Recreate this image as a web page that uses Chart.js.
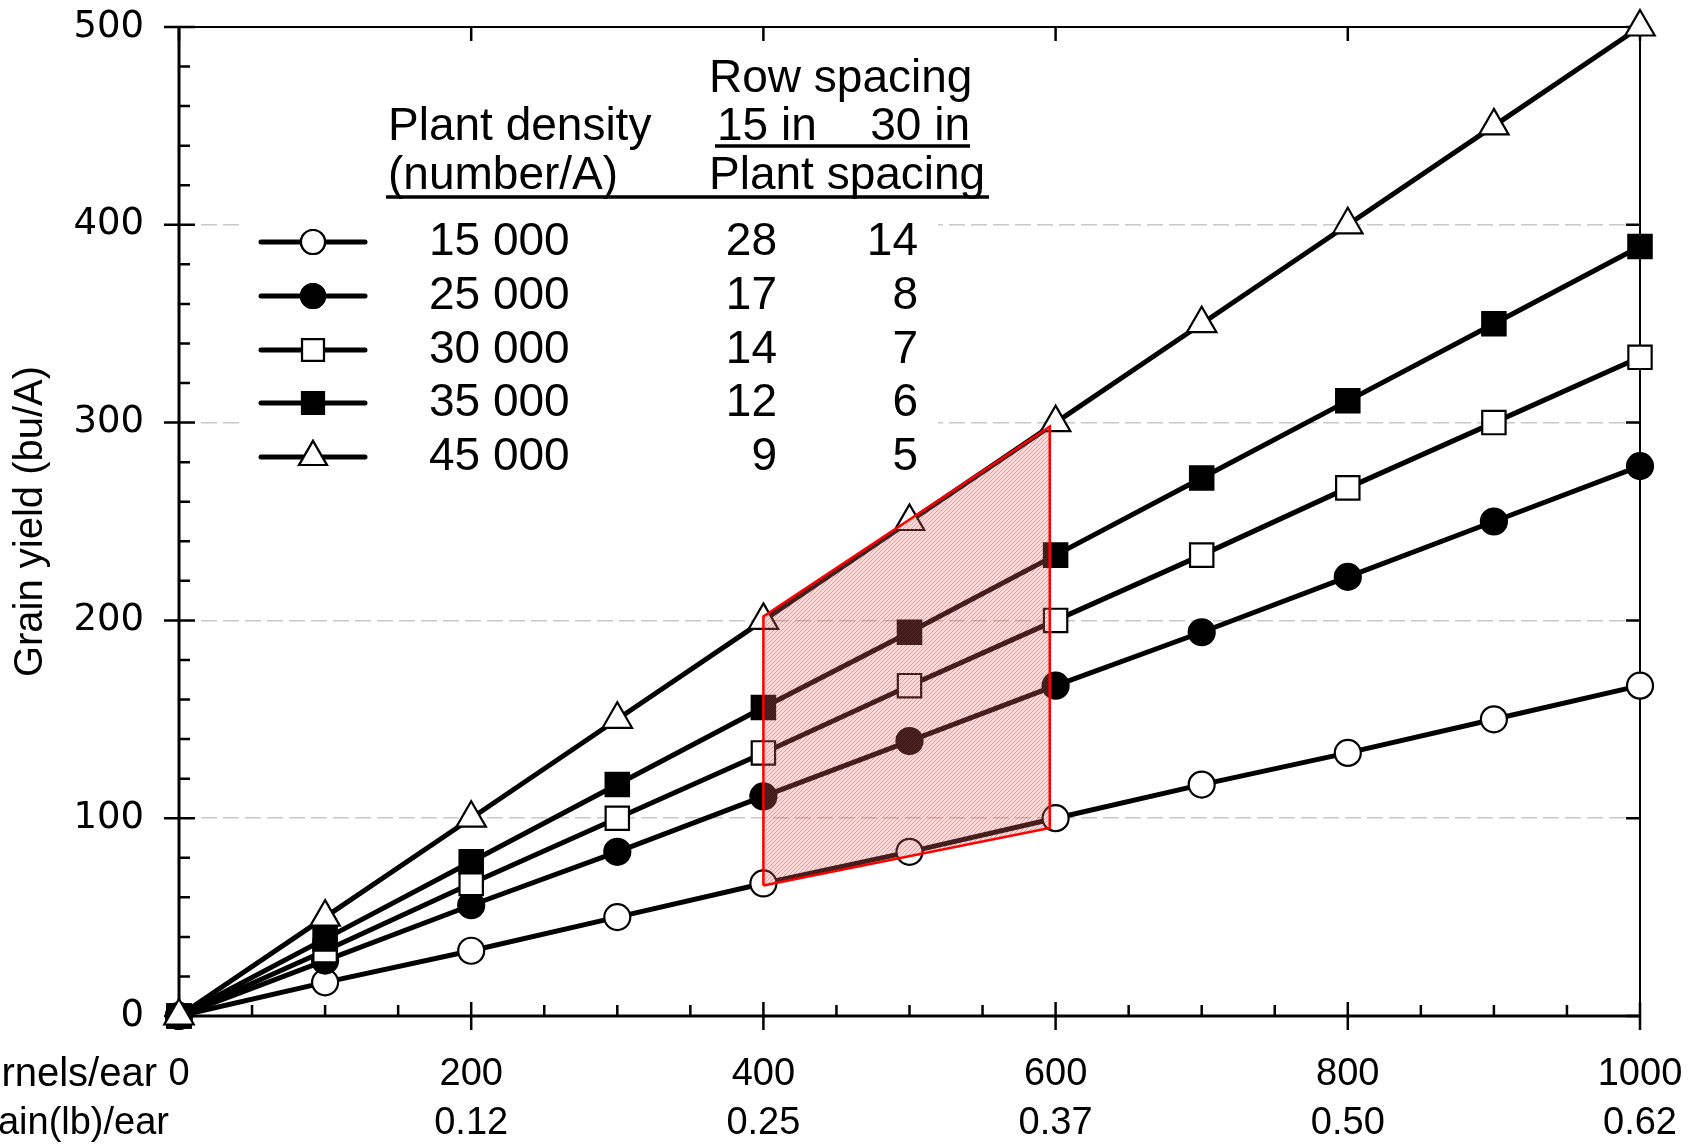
<!DOCTYPE html>
<html>
<head>
<meta charset="utf-8">
<script src="https://cdn.jsdelivr.net/npm/chart.js@4.4.1/dist/chart.umd.min.js"></script>
<style>
  html, body { margin: 0; padding: 0; background: #fff; }
  #wrap { width: 1690px; height: 1144px; position: relative; }
</style>
</head>
<body>
<div id="wrap"><canvas id="c"></canvas></div>
<script>
// ---------------- data ----------------
const kernels = [0, 100, 200, 300, 400, 500, 600, 700, 800, 900, 1000];
const yield15000 = [0, 17, 33, 50, 67, 83, 100, 117, 133, 150, 167];
const yield25000 = [0, 28, 56, 83, 111, 139, 167, 194, 222, 250, 278];
const yield30000 = [0, 33, 67, 100, 133, 167, 200, 233, 267, 300, 333];
const yield35000 = [0, 39, 78, 117, 156, 194, 233, 272, 311, 350, 389];
const yield45000 = [0, 50, 100, 150, 200, 250, 300, 350, 400, 450, 500];

const densityLabels = ['15 000', '25 000', '30 000', '35 000', '45 000'];
const spacing15in = ['28', '17', '14', '12', '9'];
const spacing30in = ['14', '8', '7', '6', '5'];

const xTickValues = [0, 200, 400, 600, 800, 1000];
const kernelTickLabels = ['0', '200', '400', '600', '800', '1000'];
const grainTickLabels = ['', '0.12', '0.25', '0.37', '0.50', '0.62'];

// shaded region (kernels/ear, lower and upper yield edges)
const shadeX = [400, 596];
const shadeLow = [66, 95];
const shadeHigh = [202, 298];

// ---------------- helpers ----------------
const pts = (ys) => kernels.map((k, i) => ({ x: k, y: ys[i] }));
const edge = (ys) => shadeX.map((k, i) => ({ x: k, y: ys[i] }));
const outline = [
  { x: shadeX[0], y: shadeLow[0] }, { x: shadeX[0], y: shadeHigh[0] },
  { x: shadeX[1], y: shadeHigh[1] }, { x: shadeX[1], y: shadeLow[1] },
  { x: shadeX[0], y: shadeLow[0] }
];

// hatch pattern for the shaded region
const pc = document.createElement('canvas');
pc.width = 4; pc.height = 4;
const pctx = pc.getContext('2d');
pctx.fillStyle = 'rgba(255,100,100,0.26)';
pctx.fillRect(0, 0, 4, 4);
pctx.fillStyle = 'rgba(240,20,20,0.32)';
pctx.fillRect(0, 3, 1, 1); pctx.fillRect(1, 2, 1, 1); pctx.fillRect(2, 1, 1, 1); pctx.fillRect(3, 0, 1, 1);
const hatch = pctx.createPattern(pc, 'repeat');

const styles = {
  s15000: { pointStyle: 'circle', bg: '#fff', r: 13 },
  s25000: { pointStyle: 'circle', bg: '#000', r: 13 },
  s30000: { pointStyle: 'rect', bg: '#fff', r: 16.5 },
  s35000: { pointStyle: 'rect', bg: '#000', r: 16.5 },
  s45000: { pointStyle: 'triangle', bg: '#fff', r: 17 }
};
const legendStyles = [styles.s15000, styles.s25000, styles.s30000, styles.s35000, styles.s45000];

function series(label, ys, st) {
  return {
    label, data: pts(ys), order: 1, clip: false,
    borderColor: '#000', borderWidth: 5, tension: 0, fill: false,
    pointStyle: st.pointStyle, pointRadius: st.r, pointHoverRadius: st.r,
    pointBackgroundColor: st.bg, pointBorderColor: '#000', pointBorderWidth: 2.2
  };
}

const FONT = '"Liberation Sans", Arial, sans-serif';
const zeroPad = (s) => { s.paddingLeft = 0; s.paddingRight = 0; s.paddingTop = 0; s.paddingBottom = 0; };

// ---------------- plugins ----------------
const framePlugin = {
  id: 'frame',
  beforeDatasetsDraw(chart) {
    const { ctx, chartArea: a, scales: { x, y } } = chart;
    ctx.save();
    // legend background (covers grid lines)
    ctx.fillStyle = '#fff';
    ctx.fillRect(240, 222, 698, 258);
    ctx.strokeStyle = '#000';
    ctx.lineCap = 'butt';
    // frame
    ctx.lineWidth = 2;
    ctx.beginPath();
    ctx.moveTo(a.left, a.top); ctx.lineTo(a.right, a.top); ctx.lineTo(a.right, a.bottom);
    ctx.stroke();
    ctx.lineWidth = 3;
    ctx.beginPath();
    ctx.moveTo(a.left, a.top - 1); ctx.lineTo(a.left, a.bottom); ctx.lineTo(a.right, a.bottom);
    ctx.stroke();
    // ticks
    ctx.lineWidth = 2.5;
    ctx.beginPath();
    for (let v = 0; v <= 500; v += 20) {
      const py = y.getPixelForValue(v);
      if (v % 100 === 0) {
        ctx.moveTo(a.left - 15, py); ctx.lineTo(a.left + 16, py);
        ctx.moveTo(a.right, py); ctx.lineTo(a.right - 14, py);
      } else {
        ctx.moveTo(a.left, py); ctx.lineTo(a.left + 11, py);
      }
    }
    for (let v = 0; v <= 1000; v += 50) {
      const px = x.getPixelForValue(v);
      if (v % 200 === 0) {
        ctx.moveTo(px, a.bottom + 14); ctx.lineTo(px, a.bottom - 14);
        ctx.moveTo(px, a.top); ctx.lineTo(px, a.top + 14);
      } else {
        ctx.moveTo(px, a.bottom); ctx.lineTo(px, a.bottom - 11);
      }
    }
    ctx.stroke();
    ctx.restore();
  },
  afterDraw(chart) {
    const { ctx } = chart;
    ctx.save();
    ctx.fillStyle = '#000';
    ctx.strokeStyle = '#000';
    // x-axis row titles (partly off-canvas, as in the original)
    ctx.font = '40px ' + FONT;
    ctx.textAlign = 'right';
    ctx.textBaseline = 'middle';
    ctx.fillText('Kernels/ear', 157, 1075);
    ctx.font = '38px ' + FONT;
    ctx.fillText('Grain(lb)/ear', 169, 1124);

    // legend header
    ctx.font = '46px ' + FONT;
    ctx.textAlign = 'left';
    ctx.fillText('Row spacing', 709, 79);
    ctx.fillText('Plant density', 388, 127);
    ctx.fillText('15 in', 717, 127);
    ctx.textAlign = 'right';
    ctx.fillText('30 in', 970, 127);
    ctx.textAlign = 'left';
    ctx.fillText('(number/A)', 388, 176);
    ctx.fillText('Plant spacing', 709, 176);
    ctx.lineWidth = 3.5;
    ctx.beginPath();
    ctx.moveTo(715, 146); ctx.lineTo(970, 146);
    ctx.moveTo(386, 197); ctx.lineTo(989, 197);
    ctx.stroke();

    // legend rows
    const rowsY = [242, 296, 350, 403, 457];
    rowsY.forEach((ry, i) => {
      ctx.lineWidth = 5;
      ctx.lineCap = 'round';
      ctx.beginPath();
      ctx.moveTo(261, ry); ctx.lineTo(365, ry);
      ctx.stroke();
      const st = legendStyles[i];
      ctx.lineWidth = 2.2;
      ctx.fillStyle = st.bg;
      Chart.helpers.drawPoint(ctx, { pointStyle: st.pointStyle, radius: st.r - 1, rotation: 0, borderWidth: 2.2 }, 313, ry);
      ctx.fill();
      ctx.stroke();
      ctx.fillStyle = '#000';
      ctx.font = '46px ' + FONT;
      ctx.textAlign = 'left';
      ctx.fillText(densityLabels[i], 429, ry);
      ctx.textAlign = 'right';
      ctx.fillText(spacing15in[i], 777, ry);
      ctx.fillText(spacing30in[i], 918, ry);
    });
    ctx.restore();
  }
};

// ---------------- chart ----------------
new Chart(document.getElementById('c'), {
  type: 'line',
  data: {
    datasets: [
      series('45 000', yield45000, styles.s45000),
      series('35 000', yield35000, styles.s35000),
      series('30 000', yield30000, styles.s30000),
      series('25 000', yield25000, styles.s25000),
      series('15 000', yield15000, styles.s15000),
      { label: 'low', data: edge(shadeLow), order: -1, borderColor: 'rgba(0,0,0,0)', borderWidth: 0,
        pointRadius: 0, fill: false },
      { label: 'high', data: edge(shadeHigh), order: -1, borderColor: 'rgba(0,0,0,0)', borderWidth: 0,
        pointRadius: 0, fill: '-1', backgroundColor: hatch },
      { label: 'outline', data: outline, order: -2, borderColor: '#ff0000', borderWidth: 2.5,
        pointRadius: 0, fill: false, tension: 0 }
    ]
  },
  options: {
    responsive: true,
    maintainAspectRatio: false,
    animation: false,
    events: [],
    layout: { padding: { top: 27, right: 50, left: 0, bottom: 0 } },
    plugins: { legend: { display: false }, tooltip: { enabled: false } },
    scales: {
      x: {
        type: 'linear', min: 0, max: 1000,
        afterFit: (s) => { s.height = 128; zeroPad(s); },
        afterBuildTicks: (s) => { s.ticks = xTickValues.map(v => ({ value: v })); },
        grid: { display: false, drawTicks: false },
        border: { display: false },
        ticks: {
          autoSkip: false, maxRotation: 0, padding: 34, color: '#000',
          font: { family: FONT, size: 38, lineHeight: 1.29 },
          callback: (v) => {
            const i = xTickValues.indexOf(v);
            return [kernelTickLabels[i], grainTickLabels[i]];
          }
        }
      },
      y: {
        type: 'linear', min: 0, max: 500,
        afterFit: (s) => { s.width = 179; zeroPad(s); },
        ticks: { stepSize: 100, padding: 35, color: '#000',
          font: { family: '"DejaVu Sans", sans-serif', size: 37 } },
        grid: {
          drawTicks: false, lineWidth: 1.5,
          color: (c) => (c.tick && c.tick.value > 0 && c.tick.value < 500) ? '#c8c8c8' : 'rgba(0,0,0,0)'
        },
        border: { display: false, dash: [16, 6] },
        title: {
          display: true, text: 'Grain yield (bu/A)', color: '#000',
          font: { family: FONT, size: 40, lineHeight: 1.2 }, padding: { top: 7, bottom: 0 }
        }
      }
    }
  },
  plugins: [framePlugin]
});
</script>
</body>
</html>
